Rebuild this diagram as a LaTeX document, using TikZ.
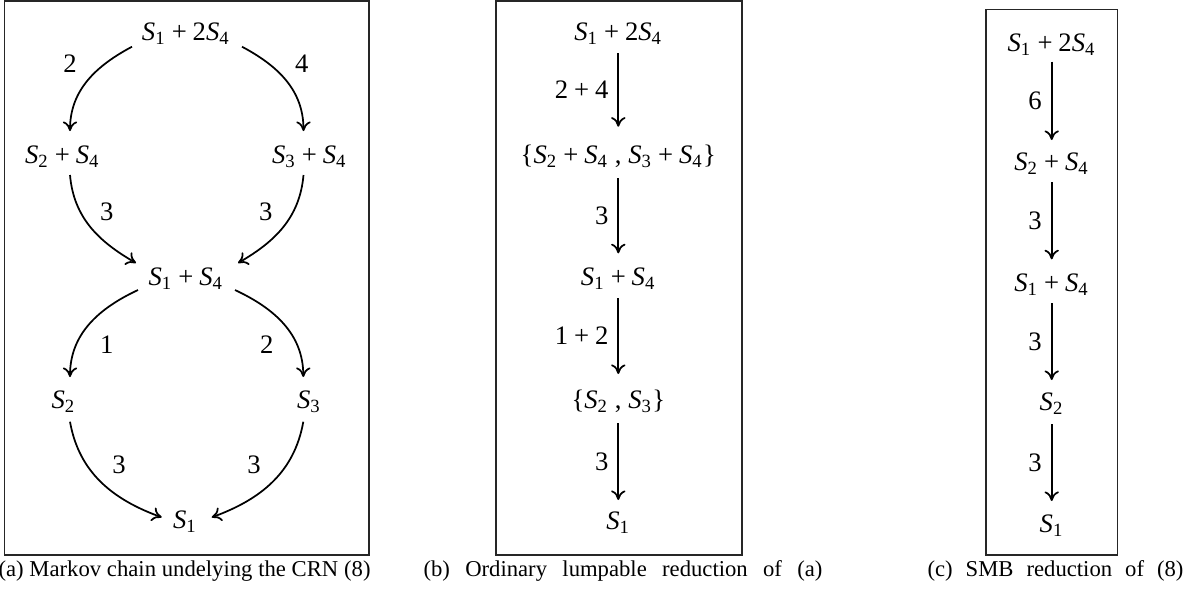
\documentclass[tikz,border=0pt]{standalone}
\usepackage{fontspec}
\setmainfont{Liberation Serif}
\usetikzlibrary{arrows.meta,calc}
\newcommand{\Sv}[1]{\textit{S}\textsubscript{#1}}
\newcommand{\pl}{\hspace{0.22em}+\hspace{0.22em}}
\tikzset{
  st/.style={anchor=base, inner sep=0pt, font=\fontsize{10pt}{12pt}\selectfont},
  lab/.style={anchor=base, inner sep=0pt, font=\fontsize{10pt}{12pt}\selectfont},
  elab/.style={midway, left, inner sep=3.4pt, font=\fontsize{10pt}{12pt}\selectfont},
  arr/.style={line width=0.65pt, -{To[length=3.6pt,width=5.4pt]}},
  panel/.style={line width=0.5pt, draw=black!85},
  capt/.style={anchor=base west, inner sep=0pt, font=\fontsize{8.5pt}{10pt}\selectfont},
}
\begin{document}
\begin{tikzpicture}[x=0.375pt,y=0.375pt]
\useasboundingbox (0,0) rectangle (1184,-596);

% ---------- panel (a) ----------
\draw[panel] (4.3,-1) rectangle (369,-555);
\node[st] (a1) at (186,-40.7) {\Sv1\pl 2\Sv4};
\node[st] (a2) at (62.5,-163) {\Sv2\pl\Sv4};
\node[st] (a3) at (309.5,-163) {\Sv3\pl\Sv4};
\node[st] (a4) at (186,-285) {\Sv1\pl\Sv4};
\node[st] (a5) at (63.5,-408) {\Sv2};
\node[st] (a6) at (309,-408) {\Sv3};
\node[st] (a7) at (185,-528) {\Sv1};

\draw[arr] ($(a1.base)+(-54,-6)$) to[out=208,in=90] ($(a2.base)+(7.5,32)$);
\draw[arr] ($(a1.base)+(56,-6)$) to[out=-28,in=90] ($(a3.base)+(-6,32)$);
\draw[arr] ($(a2.base)+(7.5,-12)$) to[out=-85,in=150] ($(a4.base)+(-50,22)$);
\draw[arr] ($(a3.base)+(-6,-12)$) to[out=-95,in=30] ($(a4.base)+(52,22)$);
\draw[arr] ($(a4.base)+(-48,-5)$) to[out=205,in=90] ($(a5.base)+(6.5,31)$);
\draw[arr] ($(a4.base)+(49,-5)$) to[out=-25,in=90] ($(a6.base)+(-5.7,31)$);
\draw[arr] ($(a5.base)+(6.5,-13.7)$) to[out=-80,in=160] ($(a7.base)+(-23.3,10.7)$);
\draw[arr] ($(a6.base)+(-5.7,-13.7)$) to[out=-100,in=20] ($(a7.base)+(26.7,10.7)$);

\node[lab] (la1) at (70,-72) {2};
\node[lab] (la2) at (301.7,-72) {4};
\node[lab] (la3) at (106.7,-220) {3};
\node[lab] (la4) at (265.7,-220) {3};
\node[lab] (la5) at (106.7,-353) {1};
\node[lab] (la6) at (266.7,-353) {2};
\node[lab] (la7) at (119,-473) {3};
\node[lab] (la8) at (254,-473) {3};

% ---------- panel (b) ----------
\draw[panel] (496,-1) rectangle (742,-555);
\node[st] (b1) at (618.3,-40.7) {\Sv1\pl 2\Sv4};
\node[st] (b2) at (618.3,-163) {\{\Sv2\pl\Sv4\ ,\ \Sv3\pl\Sv4\}};
\node[st] (b3) at (618.3,-285) {\Sv1\pl\Sv4};
\node[st] (b4) at (618.3,-408) {\{\Sv2\ ,\ \Sv3\}};
\node[st] (b5) at (618.3,-529) {\Sv1};
\draw[arr] ($(b1.base)+(0,-12.6)$) -- node[elab]{2\pl 4} ($(b2.base)+(0,36.3)$);
\draw[arr] ($(b2.base)+(0,-15.3)$) -- node[elab]{3} ($(b3.base)+(0,31.7)$);
\draw[arr] ($(b3.base)+(0,-13.3)$) -- node[elab]{1\pl 2} ($(b4.base)+(0,34)$);
\draw[arr] ($(b4.base)+(0,-15.3)$) -- node[elab]{3} ($(b5.base)+(0,29)$);

% ---------- panel (c) ----------
\draw[panel] (986,-9.3) rectangle (1117.7,-555);
\node[st] (c1) at (1051.7,-51.7) {\Sv1\pl 2\Sv4};
\node[st] (c2) at (1051.7,-170) {\Sv2\pl\Sv4};
\node[st] (c3) at (1051.7,-291.7) {\Sv1\pl\Sv4};
\node[st] (c4) at (1051.7,-410) {\Sv2};
\node[st] (c5) at (1051.7,-532.7) {\Sv1};
\draw[arr] ($(c1.base)+(0,-10)$) -- node[elab]{6} ($(c2.base)+(0,30)$);
\draw[arr] ($(c2.base)+(0,-12)$) -- node[elab]{3} ($(c3.base)+(0,32.4)$);
\draw[arr] ($(c3.base)+(0,-11.6)$) -- node[elab]{3} ($(c4.base)+(0,30)$);
\draw[arr] ($(c4.base)+(0,-14.3)$) -- node[elab]{3} ($(c5.base)+(0,31.7)$);

% ---------- captions ----------
\node[capt] (capa) at (-2,-576) {\makebox[139.5pt][s]{(a) Markov chain undelying the CRN (8)}};
\node[capt] (capb) at (423,-576) {\makebox[149.6pt][s]{(b) Ordinary lumpable reduction of (a)}};
\node[capt] (capc) at (927,-576) {\makebox[96pt][s]{(c) SMB reduction of (8)}};
\end{tikzpicture}
\end{document}
